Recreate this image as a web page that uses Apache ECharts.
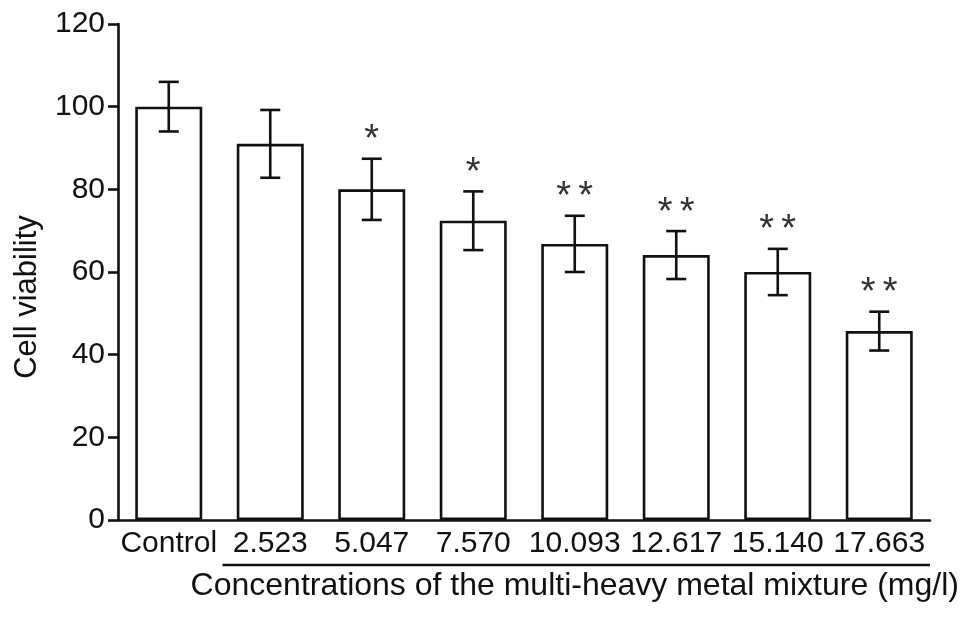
<!DOCTYPE html>
<html>
<head>
<meta charset="utf-8">
<script src="https://cdn.jsdelivr.net/npm/echarts@6/dist/echarts.min.js"></script>
<style>
  html, body { margin: 0; padding: 0; background: #ffffff; }
  #chart { width: 969px; height: 617px; }
</style>
</head>
<body>
<div id="chart"></div>
<script>
// data
const categories = ['Control', '2.523', '5.047', '7.570', '10.093', '12.617', '15.140', '17.663'];
const viability = [100, 91, 80, 72.4, 66.8, 64.1, 60, 45.7];
const sd = [6, 8.2, 7.4, 7.1, 6.8, 5.8, 5.6, 4.7];
const marks = ['', '', '*', '*', '**', '**', '**', '**'];
const yTicks = [0, 20, 40, 60, 80, 100, 120];

const ink = '#111111';
const font = 'Liberation Sans, Arial, sans-serif';

const chart = echarts.init(document.getElementById('chart'));

// error bars + significance stars
function renderErr(params, api) {
  const i = api.value(0);
  const v = api.value(1);
  const e = api.value(2);
  const top = api.coord([i, v + e]);
  const bot = api.coord([i, v - e]);
  const cap = 10;
  const style = { stroke: ink, lineWidth: 2.6 };
  const children = [
    { type: 'line', shape: { x1: top[0], y1: top[1], x2: bot[0], y2: bot[1] }, style: style },
    { type: 'line', shape: { x1: top[0] - cap, y1: top[1], x2: top[0] + cap, y2: top[1] }, style: style },
    { type: 'line', shape: { x1: bot[0] - cap, y1: bot[1], x2: bot[0] + cap, y2: bot[1] }, style: style }
  ];
  const stars = marks[i].split('');
  stars.forEach((s, k) => {
    // each star drawn on its own so the pair spacing matches the figure
    const dx = (k - (stars.length - 1) / 2) * 22;
    children.push({
      type: 'text',
      style: {
        text: s, x: top[0] + dx, y: top[1] - 18,
        align: 'center', verticalAlign: 'middle',
        fill: '#333333', fontSize: 38, fontFamily: font
      }
    });
  });
  return { type: 'group', children: children };
}

chart.setOption({
  animation: false,
  grid: { left: 118, right: 39, top: 24, bottom: 97 },
  xAxis: {
    type: 'category',
    data: categories,
    axisLine: { lineStyle: { color: ink, width: 2.6 } },
    axisTick: { inside: true, alignWithLabel: true, length: 9, lineStyle: { color: ink, width: 2.6 } },
    axisLabel: { color: ink, fontSize: 30, fontFamily: font, margin: 9, interval: 0 }
  },
  yAxis: {
    type: 'value',
    min: yTicks[0],
    max: yTicks[yTicks.length - 1],
    interval: 20,
    axisLine: { show: true, lineStyle: { color: ink, width: 2.6 } },
    axisTick: { show: true, length: 10, lineStyle: { color: ink, width: 2.6 } },
    axisLabel: { color: ink, fontSize: 30, fontFamily: font, margin: 13 },
    splitLine: { show: false }
  },
  series: [
    {
      type: 'bar',
      data: viability,
      barWidth: '66%',
      itemStyle: { color: '#ffffff', borderColor: ink, borderWidth: 2.6 }
    },
    {
      type: 'custom',
      renderItem: renderErr,
      data: viability.map((v, i) => [i, v, sd[i]]),
      z: 5
    }
  ]
});

// underline under the concentration labels, axis titles
const c1 = chart.convertToPixel({ xAxisIndex: 0 }, categories[1]);
const cN = chart.convertToPixel({ xAxisIndex: 0 }, categories[categories.length - 1]);
const band = cN - chart.convertToPixel({ xAxisIndex: 0 }, categories[categories.length - 2]);
chart.setOption({
  graphic: [
    {
      type: 'line',
      shape: { x1: c1 - 0.47 * band, y1: 565, x2: cN + 0.5 * band, y2: 565 },
      style: { stroke: ink, lineWidth: 2.6 }
    },
    {
      type: 'text',
      x: (c1 + cN) / 2, y: 586,
      style: {
        text: 'Concentrations of the multi-heavy metal mixture (mg/l)',
        align: 'center', verticalAlign: 'middle',
        fill: ink, fontSize: 32, fontFamily: font
      }
    },
    {
      type: 'text',
      x: 27, y: 297,
      rotation: Math.PI / 2,
      style: {
        text: 'Cell viability',
        align: 'center', verticalAlign: 'middle',
        fill: ink, fontSize: 31, fontFamily: font
      }
    }
  ]
});
</script>
</body>
</html>
